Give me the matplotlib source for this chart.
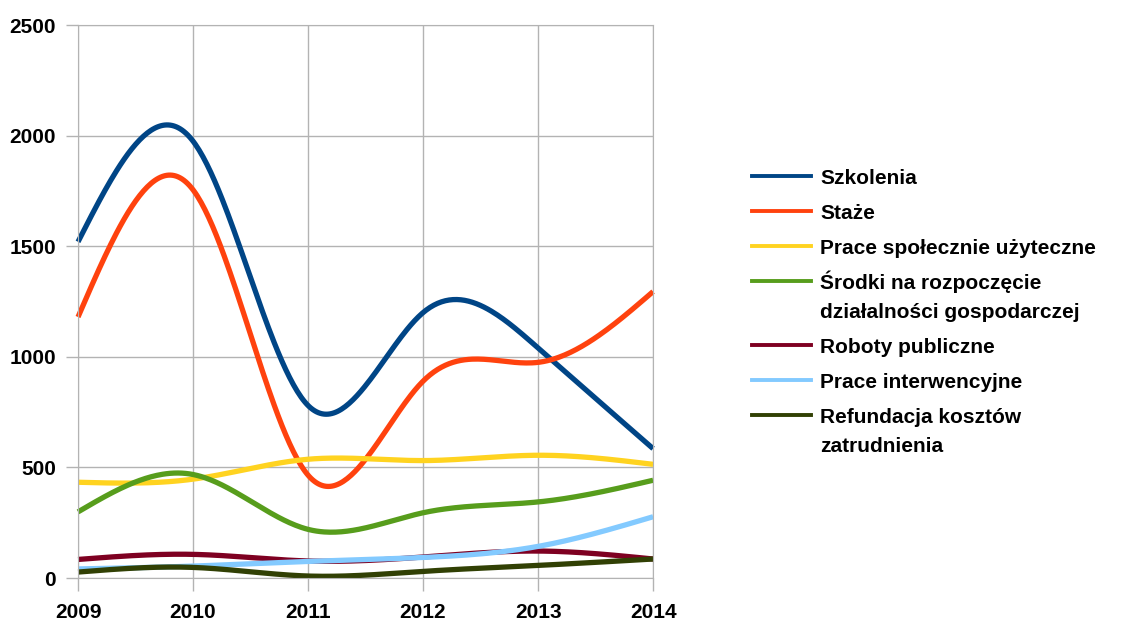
import numpy as np
import matplotlib
matplotlib.use("Agg")
import matplotlib.pyplot as plt
from matplotlib.lines import Line2D

plt.rcParams['font.family'] = ['Liberation Sans', 'DejaVu Sans']
plt.rcParams['font.weight'] = 'bold'

# data
years = [2009, 2010, 2011, 2012, 2013, 2014]
szkolenia = [1520, 1975, 780, 1200, 1040, 585]
staze = [1180, 1755, 465, 890, 975, 1295]
prace_spol = [433, 447, 537, 531, 555, 514]
srodki = [299, 468, 220, 295, 344, 442]
roboty = [84, 107, 77, 95, 122, 86]
prace_interw = [41, 54, 75, 93, 143, 277]
refundacja = [27, 48, 9, 30, 57, 86]

labels = ['Szkolenia', 'Staże', 'Prace społecznie użyteczne',
          'Środki na rozpoczęcie\ndziałalności gospodarczej',
          'Roboty publiczne', 'Prace interwencyjne',
          'Refundacja kosztów\nzatrudnienia']
colors = ['#004586', '#ff420e', '#ffd320', '#579d1c', '#7e0021', '#83caff', '#314004']
series = [szkolenia, staze, prace_spol, srodki, roboty, prace_interw, refundacja]


def natural_spline(x, y, n=300):
    # natural cubic spline through the points (like the office "cubic spline" line type)
    x = np.asarray(x, float)
    y = np.asarray(y, float)
    k = len(x)
    h = np.diff(x)
    A = np.zeros((k, k))
    b = np.zeros(k)
    A[0, 0] = A[-1, -1] = 1
    for i in range(1, k - 1):
        A[i, i - 1] = h[i - 1]
        A[i, i] = 2 * (h[i - 1] + h[i])
        A[i, i + 1] = h[i]
        b[i] = 6 * ((y[i + 1] - y[i]) / h[i] - (y[i] - y[i - 1]) / h[i - 1])
    M = np.linalg.solve(A, b)
    xs = np.linspace(x[0], x[-1], n)
    idx = np.clip(np.searchsorted(x, xs) - 1, 0, k - 2)
    x0, x1 = x[idx], x[idx + 1]
    hh = x1 - x0
    ys = (M[idx] * (x1 - xs) ** 3 / (6 * hh) + M[idx + 1] * (xs - x0) ** 3 / (6 * hh)
          + (y[idx] / hh - M[idx] * hh / 6) * (x1 - xs)
          + (y[idx + 1] / hh - M[idx + 1] * hh / 6) * (xs - x0))
    return xs, ys


fig = plt.figure(figsize=(11.26, 6.21), dpi=100)
ax = fig.add_axes([0.0693, 0.0692, 0.5107, 0.8905])

for vals, c in zip(series, colors):
    xs, ys = natural_spline(years, vals)
    ax.plot(xs, ys, color=c, lw=3.8, solid_capstyle='butt', clip_on=False)

ax.set_xlim(2009, 2014)
ax.set_ylim(0, 2500)
ax.set_xticks(years)
ax.set_yticks(range(0, 2501, 500))
ax.grid(True, color='#b3b3b3', lw=1)
ax.set_axisbelow(True)
for s in ax.spines.values():
    s.set_color('#b3b3b3')
ax.tick_params(colors='#b3b3b3', labelcolor='black', length=9, width=1,
               labelsize=15)
ax.tick_params(axis='x', pad=9)
ax.tick_params(axis='y', pad=7)
for t in ax.get_xticklabels() + ax.get_yticklabels():
    t.set_fontweight('bold')

# legend drawn by hand so the key line sits on the first text line
W, H = 1126, 621
row_y = [176, 211, 246, 281, 345, 380, 415]
for lab, c, yy in zip(labels, colors, row_y):
    fy = 1 - yy / H
    fig.add_artist(Line2D([752 / W, 811 / W], [fy, fy], color=c, lw=2.8,
                          transform=fig.transFigure))
    for j, part in enumerate(lab.split('\n')):
        fig.text(820 / W, 1 - (yy + 8 + 29 * j) / H, part, fontsize=15,
                 fontweight='bold', va='baseline', ha='left')

fig.savefig('out.png', dpi=100)
